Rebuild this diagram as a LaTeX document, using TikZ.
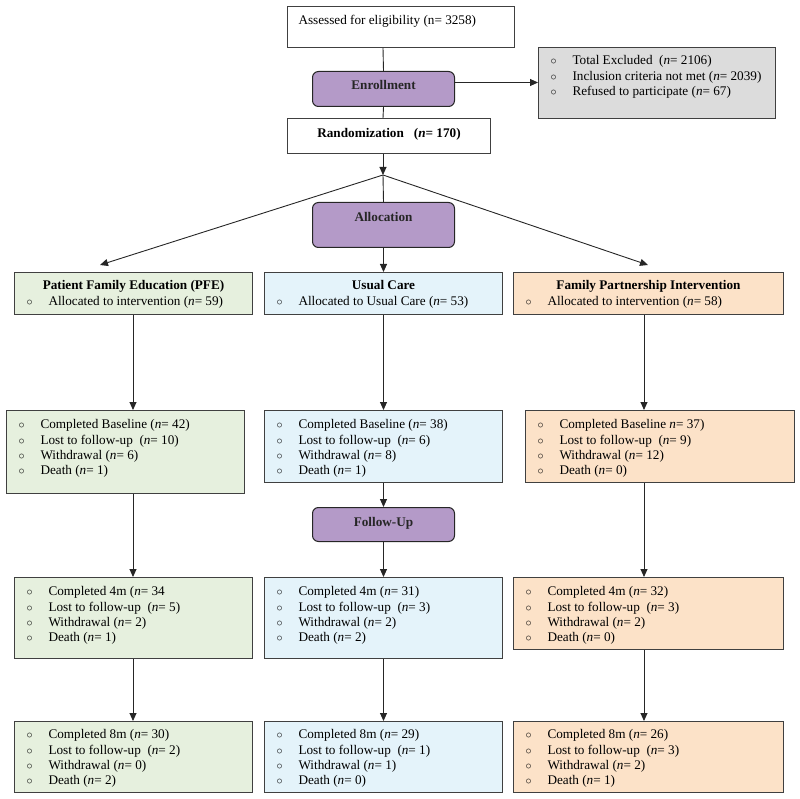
\documentclass[tikz,border=0pt]{standalone}
\usepackage{fontspec}
\setmainfont{Liberation Serif}
\usetikzlibrary{arrows.meta,positioning}

\definecolor{phasepurple}{RGB}{180,154,200}
\definecolor{pfegreen}{RGB}{230,240,222}
\definecolor{ucblue}{RGB}{228,243,250}
\definecolor{fpipeach}{RGB}{252,226,200}
\definecolor{exclgray}{RGB}{220,220,220}

% box body: width, height, top pad, lines
\newcommand{\boxbody}[4]{\parbox[t][#2pt][t]{#1pt}{\vspace*{#3pt}#4}}
\newcommand{\bline}[1]{\hspace*{12pt}\makebox[22pt][l]{\(\circ\)}\strut#1\par}
\newcommand{\ctitle}[1]{{\centering\strut#1\par}}

\begin{document}
\begin{tikzpicture}[x=1pt,y=-1pt,
    box/.style={draw=black!75, line width=1pt, inner sep=0pt, anchor=north west,
        font=\fontsize{13.2}{15.2}\selectfont},
    pfebox/.style={box, fill=pfegreen},
    ucbox/.style={box, fill=ucblue},
    fpibox/.style={box, fill=fpipeach},
    phasebox/.style={box, fill=phasepurple, draw=black!85, rounded corners=6pt,
        text=black!85, font={\fontsize{13.2}{15.2}\selectfont\bfseries}},
    lin/.style={line width=0.9pt, black!85},
    arr/.style={lin, -{Triangle[length=8pt,width=7pt]}}]
\useasboundingbox (0,0) rectangle (800,799);

% enrollment part
\node[box, fill=white] (assess) at (287,6)
    {\boxbody{227}{41}{7.8}{\hspace*{11pt}\strut Assessed for eligibility (n= 3258)\par}};
\node[phasebox] (enroll) at (312,71) {\boxbody{142}{35}{7.8}{\ctitle{Enrollment}}};
\node[box, fill=exclgray] (excl) at (538,47)
    {\boxbody{237}{71}{6.8}{%
    \bline{Total Excluded\ \ (\textit{n}= 2106)}
    \bline{Inclusion criteria not met (\textit{n}= 2039)}
    \bline{Refused to participate (\textit{n}= 67)}}};
\node[box, fill=white, font={\fontsize{13.2}{15.2}\selectfont\bfseries}] (random) at (287,118)
    {\boxbody{203}{35}{8.8}{\ctitle{Randomization\hspace{10pt}(\textit{n}= 170)}}};
\node[phasebox] (alloc) at (312,202) {\boxbody{142}{45}{8.8}{\ctitle{Allocation}}};

% allocated groups
\node[pfebox] (pfe0) at (14,272) {\boxbody{238}{42}{6.8}{%
    \ctitle{\bfseries Patient Family Education (PFE)}
    \bline{Allocated to intervention (\textit{n}= 59)}}};
\node[ucbox] (uc0) at (264,272) {\boxbody{238}{42}{6.8}{%
    \ctitle{\bfseries Usual Care}
    \bline{Allocated to Usual Care (\textit{n}= 53)}}};
\node[fpibox] (fpi0) at (513,272) {\boxbody{270}{42}{6.8}{%
    \ctitle{\bfseries Family Partnership Intervention}
    \bline{Allocated to intervention (\textit{n}= 58)}}};

% baseline
\node[pfebox] (pfe1) at (6,410) {\boxbody{238}{83}{7.8}{%
    \bline{Completed Baseline (\textit{n}= 42)}
    \bline{Lost to follow-up\ \ (\textit{n}= 10)}
    \bline{Withdrawal (\textit{n}= 6)}
    \bline{Death (\textit{n}= 1)}}};
\node[ucbox] (uc1) at (264,410) {\boxbody{238}{72}{7.8}{%
    \bline{Completed Baseline (\textit{n}= 38)}
    \bline{Lost to follow-up\ \ (\textit{n}= 6)}
    \bline{Withdrawal (\textit{n}= 8)}
    \bline{Death (\textit{n}= 1)}}};
\node[fpibox] (fpi1) at (525,410) {\boxbody{269}{72}{7.8}{%
    \bline{Completed Baseline \textit{n}= 37)}
    \bline{Lost to follow-up\ \ (\textit{n}= 9)}
    \bline{Withdrawal (\textit{n}= 12)}
    \bline{Death (\textit{n}= 0)}}};

\node[phasebox] (follow) at (312,507) {\boxbody{142}{34}{8.8}{\ctitle{Follow-Up}}};

% 4 months
\node[pfebox] (pfe2) at (14,577) {\boxbody{238}{81}{7.8}{%
    \bline{Completed 4m (\textit{n}= 34}
    \bline{Lost to follow-up\ \ (\textit{n}= 5)}
    \bline{Withdrawal (\textit{n}= 2)}
    \bline{Death (\textit{n}= 1)}}};
\node[ucbox] (uc2) at (264,577) {\boxbody{238}{81}{7.8}{%
    \bline{Completed 4m (\textit{n}= 31)}
    \bline{Lost to follow-up\ \ (\textit{n}= 3)}
    \bline{Withdrawal (\textit{n}= 2)}
    \bline{Death (\textit{n}= 2)}}};
\node[fpibox] (fpi2) at (513,577) {\boxbody{270}{72}{7.8}{%
    \bline{Completed 4m (\textit{n}= 32)}
    \bline{Lost to follow-up\ \ (\textit{n}= 3)}
    \bline{Withdrawal (\textit{n}= 2)}
    \bline{Death (\textit{n}= 0)}}};

% 8 months
\node[pfebox] (pfe3) at (14,721) {\boxbody{238}{71}{6.8}{%
    \bline{Completed 8m (\textit{n}= 30)}
    \bline{Lost to follow-up\ \ (\textit{n}= 2)}
    \bline{Withdrawal (\textit{n}= 0)}
    \bline{Death (\textit{n}= 2)}}};
\node[ucbox] (uc3) at (264,721) {\boxbody{238}{71}{6.8}{%
    \bline{Completed 8m (\textit{n}= 29)}
    \bline{Lost to follow-up\ \ (\textit{n}= 1)}
    \bline{Withdrawal (\textit{n}= 1)}
    \bline{Death (\textit{n}= 0)}}};
\node[fpibox] (fpi3) at (513,721) {\boxbody{270}{71}{6.8}{%
    \bline{Completed 8m (\textit{n}= 26)}
    \bline{Lost to follow-up\ \ (\textit{n}= 3)}
    \bline{Withdrawal (\textit{n}= 2)}
    \bline{Death (\textit{n}= 1)}}};

% connectors
\coordinate (colA) at (133,0);
\coordinate (colB) at (383,0);
\coordinate (colC) at (644,0);
\coordinate (split) at (383,175);
\coordinate (pfetip) at (100,265);
\coordinate (fpitip) at (648,265);
\coordinate (enrollout) at ([yshift=6.5pt]enroll.east);

\draw[lin] (assess.south -| colB) -- (enroll.north);
\draw[arr] (enrollout) -- (enrollout -| excl.west);
\draw[lin] (enroll.south) -- (random.north -| colB);
\draw[arr] (random.south -| colB) -- (split);
\draw[lin] (split) -- (alloc.north);
\draw[arr] (alloc.south) -- (uc0.north);
\draw[arr] (split) -- (pfetip);
\draw[arr] (split) -- (fpitip);

\foreach \g/\c in {pfe/colA, fpi/colC}
  \foreach \r/\n in {0/1, 1/2, 2/3}
    \draw[arr] (\g\r.south -| \c) -- (\g\n.north -| \c);

\draw[arr] (uc0.south) -- (uc1.north);
\draw[arr] (uc1.south) -- (follow.north);
\draw[arr] (follow.south) -- (uc2.north);
\draw[arr] (uc2.south) -- (uc3.north);

\end{tikzpicture}
\end{document}
